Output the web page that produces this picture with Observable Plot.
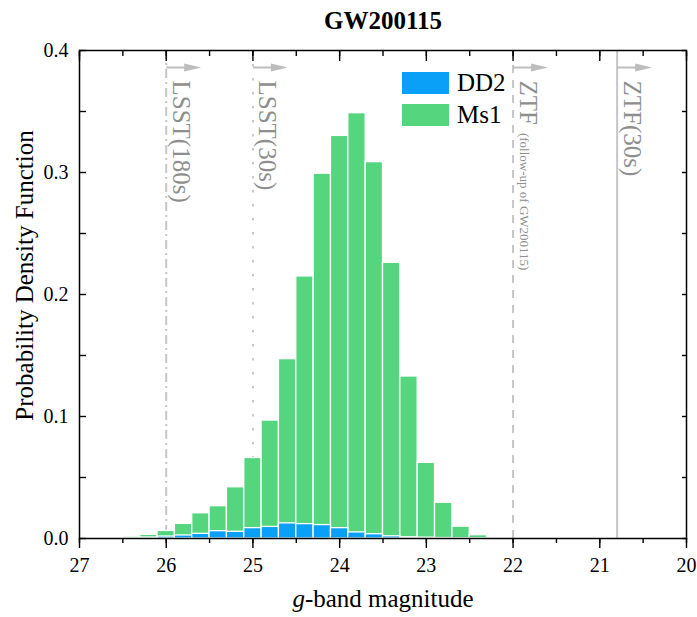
<!DOCTYPE html>
<html><head><meta charset="utf-8">
<script src="https://cdn.jsdelivr.net/npm/d3@7"></script>
<script src="https://cdn.jsdelivr.net/npm/@observablehq/plot@0.6"></script>
<style>
body{margin:0;background:#fff;}
#wrap{position:relative;width:697px;height:617px;font-family:"Liberation Serif","Times New Roman",serif;}
#wrap svg text{font-family:"Liberation Serif","Times New Roman",serif;}
#legend{position:absolute;left:402px;top:72px;}
.row{display:flex;align-items:center;height:22px;margin-bottom:10px;}
.sw{width:47px;height:22px;margin-right:8px;}
.lab{font-size:25px;line-height:22px;color:#000;}
</style></head>
<body><div id="wrap"></div>
<script>
// ---- data ----
const title = "GW200115";
const binCenters = [26.4, 26.2, 26.0, 25.8, 25.6, 25.4, 25.2, 25.0, 24.8, 24.6, 24.4, 24.2, 24.0, 23.8, 23.6, 23.4, 23.2, 23.0, 22.8, 22.6, 22.4];
const binWidth = 0.2;
const ms1 = [0.0015, 0.003, 0.0062, 0.012, 0.0207, 0.0265, 0.042, 0.066, 0.0967, 0.147, 0.2148, 0.299, 0.330, 0.3486, 0.3085, 0.226, 0.1328, 0.062, 0.0293, 0.0097, 0.0027];
const dd2 = [0.0002, 0.0008, 0.0016, 0.0025, 0.0038, 0.006, 0.0055, 0.0085, 0.0095, 0.0124, 0.0118, 0.011, 0.0085, 0.005, 0.0035, 0.0018, 0.001, 0.0007, 0.0004, 0.0002, 0.0001];
const seriesNames = ["DD2", "Ms1"];
const xTicks = [27, 26, 25, 24, 23, 22, 21, 20];
const yTicks = [0, 0.1, 0.2, 0.3, 0.4];
const limitMags = [26.0, 25.0, 22.0, 20.8];
const limitLabels = ["LSST(180s)", "LSST(30s)", "ZTF", "ZTF(30s)"];
const ztfNote = "(follow-up of GW200115)";
const xLabel = "g-band magnitude";
const yLabel = "Probability Density Function";

// ---- styles ----
const serif = "Liberation Serif, Times New Roman, serif";
const seriesColors = ["#0aa0f8", "#55d67e"];
const dashStyles = ["9,4,2,4", "2.5,11.5", "8,7", null];
const lineColor = "#c6c6c6";
const textColor = "#8e8e8e";
const xDomain = [27, 20];
const yDomain = [0, 0.4];

const xMinor = d3.range(20, 27.001, 0.5);
const yMinor = d3.range(0, 0.4001, 0.05);

const rows = binCenters.map((c, i) => ({c, ms1: ms1[i], dd2: dd2[i]}));
const limits = limitMags.map((m, i) => ({m, label: limitLabels[i], i}));

// arrow symbol (shaft + filled head), pointing right
const arrowSym = {draw(ctx) {
  ctx.moveTo(0, -1); ctx.lineTo(18, -1); ctx.lineTo(18, -4); ctx.lineTo(35, 0);
  ctx.lineTo(18, 4); ctx.lineTo(18, 1); ctx.lineTo(0, 1); ctx.closePath();
}};

const blank = () => "";

const chart = Plot.plot({
  width: 697, height: 617,
  marginLeft: 79, marginRight: 11, marginTop: 50, marginBottom: 79,
  style: {fontFamily: serif, fontSize: "20px", color: "black", background: "white", overflow: "visible"},
  x: {domain: xDomain},
  y: {domain: yDomain},
  marks: [
    ...limits.map(d => Plot.ruleX([d], {x: "m", y1: yDomain[1], y2: yDomain[0], stroke: lineColor, strokeWidth: 2, strokeDasharray: dashStyles[d.i]})),
    Plot.rectY(rows, {x1: d => d.c + binWidth / 2, x2: d => d.c - binWidth / 2, y1: 0, y2: "ms1", fill: seriesColors[1], stroke: "white", strokeWidth: 1.3}),
    Plot.rectY(rows, {x1: d => d.c + binWidth / 2, x2: d => d.c - binWidth / 2, y1: 0, y2: "dd2", fill: seriesColors[0], stroke: "white", strokeWidth: 1.3}),
    Plot.dot(limits, {x: "m", frameAnchor: "top", dy: 17, symbol: arrowSym, r: 5, fill: "#bdbdbd", stroke: "none"}),
    Plot.text(limits, {x: "m", frameAnchor: "top", dy: 30, text: "label", rotate: 90, textAnchor: "start", lineAnchor: "bottom", dx: 6.5, fontSize: 25, fill: textColor, fontFamily: serif}),
    Plot.frame({stroke: "black", strokeWidth: 1.5}),
    Plot.axisX({ticks: xTicks, tickSize: 10, tickPadding: 9, tickFormat: d => String(d), fontSize: 20, fontFamily: serif, label: null, strokeWidth: 1.4}),
    Plot.axisX({ticks: xMinor, tickSize: 5, tickFormat: blank, label: null, strokeWidth: 1.4}),
    Plot.axisX({anchor: "top", ticks: xTicks, tickSize: -10, tickFormat: blank, label: null, strokeWidth: 1.4}),
    Plot.axisX({anchor: "top", ticks: xMinor, tickSize: -5, tickFormat: blank, label: null, strokeWidth: 1.4}),
    Plot.axisY({ticks: yMinor, tickSize: -7, tickFormat: blank, label: null, strokeWidth: 1.4}),
    Plot.axisY({ticks: yTicks, tickSize: 0, tickPadding: 11, tickFormat: ".1f", fontSize: 20, fontFamily: serif, label: null}),
    Plot.axisY({anchor: "right", ticks: yMinor, tickSize: -5, tickFormat: blank, label: null, strokeWidth: 1.4}),
    Plot.text([title], {frameAnchor: "top", dy: -22, lineAnchor: "bottom", textAnchor: "middle", fontSize: 25, fontWeight: "bold", fontFamily: serif}),
    Plot.text([xLabel], {frameAnchor: "bottom", dy: 68, lineAnchor: "bottom", textAnchor: "middle", fontSize: 25, fontFamily: serif}),
    Plot.text([yLabel], {frameAnchor: "left", rotate: -90, dx: -47, dy: -19, lineAnchor: "bottom", textAnchor: "middle", fontSize: 25, fontFamily: serif})
  ]
});

// rich text: italic g, ZTF note
chart.querySelectorAll("text").forEach(t => {
  if (t.textContent === xLabel) {
    t.textContent = "";
    const g = document.createElementNS("http://www.w3.org/2000/svg", "tspan");
    g.setAttribute("font-style", "italic");
    g.textContent = xLabel.slice(0, 1);
    t.appendChild(g);
    t.appendChild(document.createTextNode(xLabel.slice(1)));
  } else if (t.textContent === "ZTF") {
    const s = document.createElementNS("http://www.w3.org/2000/svg", "tspan");
    s.setAttribute("font-size", "13");
    s.setAttribute("dx", "8");
    s.textContent = ztfNote;
    t.appendChild(s);
  }
});

const wrap = document.getElementById("wrap");
wrap.appendChild(chart);
const legend = document.createElement("div");
legend.id = "legend";
seriesNames.forEach((n, i) => {
  const row = document.createElement("div");
  row.className = "row";
  const sw = document.createElement("div");
  sw.className = "sw";
  sw.style.background = seriesColors[i];
  const lab = document.createElement("span");
  lab.className = "lab";
  lab.textContent = n;
  row.appendChild(sw); row.appendChild(lab);
  legend.appendChild(row);
});
wrap.appendChild(legend);
</script>
</body></html>
